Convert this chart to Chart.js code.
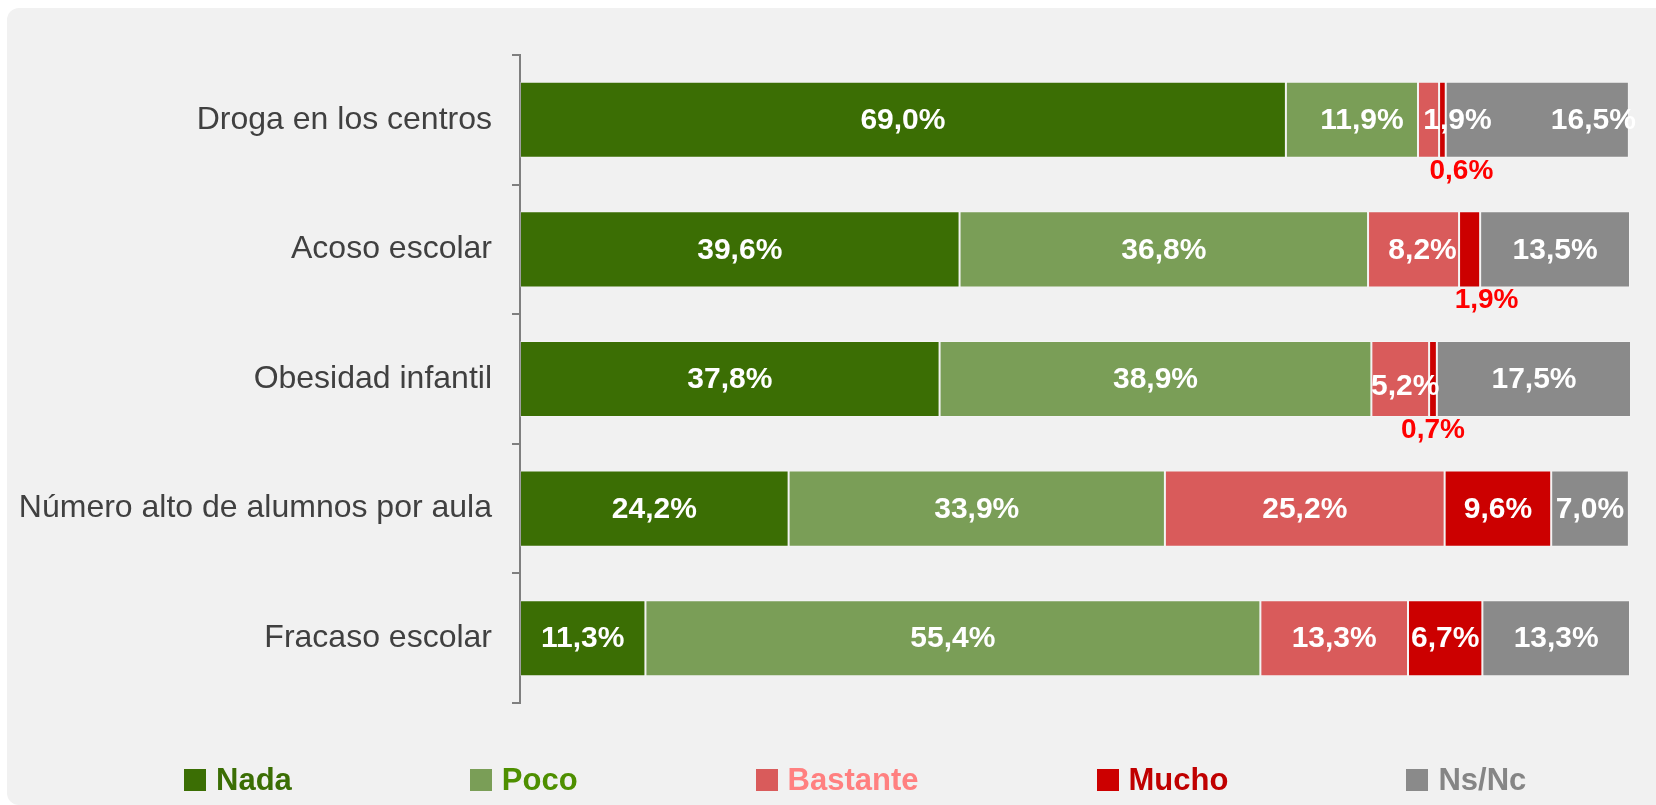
<!DOCTYPE html>
<html>
<head>
<meta charset="utf-8">
<script src="https://cdn.jsdelivr.net/npm/chart.js@4.4.1/dist/chart.umd.min.js"></script>
<style>
  html, body { margin: 0; padding: 0; background: #ffffff; width: 1656px; height: 805px; overflow: hidden; }
  #panel { position: absolute; left: 7px; top: 8px; right: 0; bottom: 0; background: #f1f1f1; border-top-left-radius: 12px; border-bottom-left-radius: 12px; }
  #wrap { position: absolute; left: 0; top: 0; width: 1656px; height: 805px; }
  #legend { position: absolute; left: 184px; top: 762px; height: 35px; display: flex; align-items: center; font-family: "Liberation Sans", Arial, sans-serif; font-weight: bold; font-size: 31px; white-space: nowrap; }
  .item { display: flex; align-items: center; margin-right: 178px; }
  .item:last-child { margin-right: 0; }
  .box { width: 22px; height: 22px; margin-right: 10px; }
  .txt { line-height: 35px; }
</style>
</head>
<body>
<div id="panel"></div>
<div id="wrap"><canvas id="c" width="1656" height="805"></canvas></div>
<div id="legend"></div>
<script>
// ---- data ----
const categories = ["Droga en los centros", "Acoso escolar", "Obesidad infantil", "Número alto de alumnos por aula", "Fracaso escolar"];
const seriesNames = ["Nada", "Poco", "Bastante", "Mucho", "Ns/Nc"];
const nada     = [69.0, 39.6, 37.8, 24.2, 11.3];
const poco     = [11.9, 36.8, 38.9, 33.9, 55.4];
const bastante = [1.9, 8.2, 5.2, 25.2, 13.3];
const mucho    = [0.6, 1.9, 0.7, 9.6, 6.7];
const nsnc     = [16.5, 13.5, 17.5, 7.0, 13.3];

// ---- styles ----
const barColors = ["#3b6e04", "#7a9e57", "#d95b5b", "#cc0000", "#8a8a8a"];
const legendTextColors = ["#3b6e04", "#4e8f00", "#ff8080", "#c00000", "#858585"];
const FONT = '"Liberation Sans", Arial, sans-serif';
// label nudges (px) keyed "row-series", and rows where Mucho label sits under the bar
const labelNudge = { "0-1": [10, 0], "0-2": [29, 0], "0-3": [19, 0], "0-4": [56, 0],
                     "1-2": [9, 0], "1-3": [17, 0], "2-2": [5, 7] };
const belowRows = [0, 1, 2];

const seriesValues = [nada, poco, bastante, mucho, nsnc];

const datasets = seriesNames.map((name, i) => ({
  label: name,
  data: seriesValues[i],
  backgroundColor: barColors[i],
  borderColor: "rgba(255,255,255,0.25)",
  borderWidth: 1,
  borderSkipped: false,
  barPercentage: 0.587,
  categoryPercentage: 1.0
}));

const fmt = v => v.toFixed(1).replace(".", ",") + "%";

const labelPlugin = {
  id: "valueLabels",
  afterDatasetsDraw(chart) {
    const ctx = chart.ctx;
    ctx.save();
    chart.data.datasets.forEach((ds, di) => {
      const meta = chart.getDatasetMeta(di);
      meta.data.forEach((el, ri) => {
        const v = ds.data[ri];
        const nudge = labelNudge[ri + "-" + di] || [0, 0];
        let x = (el.x + el.base) / 2 + nudge[0];
        let y = el.y + nudge[1];
        ctx.textAlign = "center";
        ctx.textBaseline = "middle";
        if (di === 3 && belowRows.includes(ri)) {
          ctx.font = "bold 28px " + FONT;
          ctx.fillStyle = "#ff0000";
          y = el.y + el.height / 2 + 12;
        } else {
          ctx.font = "bold 30px " + FONT;
          ctx.fillStyle = "#ffffff";
        }
        ctx.fillText(fmt(v), x, y + 1);
      });
    });
    ctx.restore();
  }
};

new Chart(document.getElementById("c"), {
  type: "bar",
  data: { labels: categories, datasets },
  options: {
    indexAxis: "y",
    responsive: false,
    animation: false,
    layout: { padding: { top: 55, right: 26, bottom: 102, left: 0 } },
    plugins: { legend: { display: false }, tooltip: { enabled: false } },
    scales: {
      x: { stacked: true, display: false, min: 0, max: 100 },
      y: {
        stacked: true,
        afterFit(scale) { scale.width = 520; },
        border: { display: true, color: "#7f7f7f", width: 2 },
        grid: { display: true, drawOnChartArea: false, drawTicks: true, tickLength: 8, color: "#7f7f7f", lineWidth: 2 },
        ticks: { color: "#404040", padding: 20, font: { family: FONT, size: 32 } }
      }
    }
  },
  plugins: [labelPlugin]
});

// legend built from the series
const lg = document.getElementById("legend");
seriesNames.forEach((name, i) => {
  const it = document.createElement("div");
  it.className = "item";
  const b = document.createElement("span");
  b.className = "box";
  b.style.background = barColors[i];
  const t = document.createElement("span");
  t.className = "txt";
  t.style.color = legendTextColors[i];
  t.textContent = name;
  it.appendChild(b); it.appendChild(t);
  lg.appendChild(it);
});
</script>
</body>
</html>
